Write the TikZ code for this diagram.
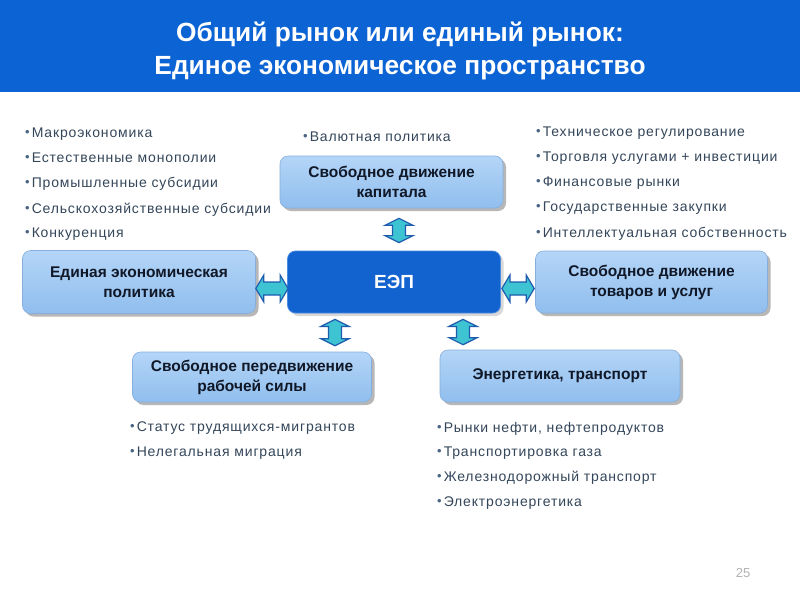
\documentclass[tikz,border=0pt]{standalone}
\usepackage{fontspec}
\setmainfont{Liberation Sans}
\newfontfamily\itemfont[LetterSpace=6]{Liberation Sans}
\usetikzlibrary{calc,shadows}
\definecolor{titleblue}{HTML}{0B63D4}
\definecolor{boxtop}{HTML}{B4D5F7}
\definecolor{boxbot}{HTML}{90BEEE}
\definecolor{boxline}{HTML}{86AEDC}
\definecolor{eepblue}{HTML}{1262D0}
\definecolor{eepline}{HTML}{4A8CE0}
\definecolor{bodytext}{HTML}{34465A}
\definecolor{bulletc}{HTML}{4A6484}
\definecolor{boxtext}{HTML}{101828}
\definecolor{arrfill}{HTML}{3EC3D3}
\definecolor{arrfill2}{HTML}{5AD6E2}
\definecolor{arrline}{HTML}{1F5BAE}
\tikzset{
  lbox/.style={rounded corners=8pt, top color=boxtop, bottom color=boxbot, draw=boxline, line width=0.6pt,
    drop shadow={shadow xshift=3pt, shadow yshift=-3pt, fill=gray!70, opacity=0.8},
    font=\fontsize{15.5}{20}\selectfont\bfseries, text=boxtext, align=center, inner sep=0pt},
  eepbox/.style={rounded corners=8pt, fill=eepblue, draw=eepline, line width=0.8pt,
    drop shadow={shadow xshift=3pt, shadow yshift=-3pt, fill=gray!50, opacity=0.6},
    font=\fontsize{19}{22}\selectfont\bfseries, text=white, align=center},
  item/.style={anchor=base west, inner sep=0pt, font=\itemfont\fontsize{14}{16}\selectfont, text=bodytext},
  dblarr/.style={fill=arrfill, draw=arrline, line width=1.2pt, line join=miter},
}
\newcommand\bul{{\color{bulletc}\fontsize{13}{14}\selectfont\raisebox{0.3pt}{•}}\hspace{2pt}}
\newcommand\varrow[2]{\path[dblarr] let \p1=(#1), \p2=(#2) in
  (\x1,\y1) -- (\x1+14pt,\y1-7pt) -- (\x1+6.5pt,\y1-7pt) -- (\x1+6.5pt,\y2+7pt) -- (\x1+14pt,\y2+7pt) -- (\x1,\y2)
  -- (\x1-14pt,\y2+7pt) -- (\x1-6.5pt,\y2+7pt) -- (\x1-6.5pt,\y1-7pt) -- (\x1-14pt,\y1-7pt) -- cycle;}
\newcommand\harrow[2]{\path[dblarr] let \p1=(#1), \p2=(#2) in
  (\x1,\y1) -- (\x1+8pt,\y1+13.5pt) -- (\x1+8pt,\y1+6.5pt) -- (\x2-8pt,\y1+6.5pt) -- (\x2-8pt,\y1+13.5pt) -- (\x2,\y1)
  -- (\x2-8pt,\y1-13.5pt) -- (\x2-8pt,\y1-6.5pt) -- (\x1+8pt,\y1-6.5pt) -- (\x1+8pt,\y1-13.5pt) -- cycle;}
\begin{document}
\begin{tikzpicture}[x=1pt,y=-1pt]
\useasboundingbox (0,0) rectangle (800,600);
\fill[white] (0,0) rectangle (800,600);
% title bar
\fill[titleblue] (0,0) rectangle (800,92);
\node[font=\fontsize{26.3}{33}\selectfont\bfseries, text=white, align=center] (title) at (400,51)
  {Общий рынок или единый рынок:\\Единое экономическое пространство};
% boxes
\node[lbox, minimum width=223pt, minimum height=52pt] (cap) at (391.5,182) {Свободное движение\\капитала};
\node[lbox, minimum width=233pt, minimum height=63pt] (lp) at (139,282) {Единая экономическая\\политика};
\node[eepbox, minimum width=213pt, minimum height=62pt] (eep) at (394,282) {ЕЭП};
\node[lbox, minimum width=232pt, minimum height=62pt] (rp) at (651.5,282) {Свободное движение\\товаров и услуг};
\node[lbox, minimum width=239pt, minimum height=50pt] (bl) at (252,377) {Свободное передвижение\\рабочей силы};
\node[lbox, minimum width=240pt, minimum height=52pt] (br) at (560,376) {Энергетика, транспорт};
% arrows
\varrow{$(cap.south)+(7.5,10)$}{$(eep.north)+(0,-8)$}
\harrow{$(lp.east)+(0,6.5)$}{$(eep.west)+(1,0)$}
\harrow{$(eep.east)+(1,6.5)$}{$(rp.west)+(-1,0)$}
\varrow{$(eep.south)+(-59,6)$}{$(bl.north)+(0,-6)$}
\varrow{$(eep.south)+(69,6)$}{$(br.north)+(0,-5)$}
% left list
\node[item] (l1) at (25,137) {\bul Макроэкономика};
\node[item] (l2) at (25,162) {\bul Естественные монополии};
\node[item] (l3) at (25,187) {\bul Промышленные субсидии};
\node[item] (l4) at (25,213) {\bul Сельскохозяйственные субсидии};
\node[item] (l5) at (25,237) {\bul Конкуренция};
% middle
\node[item] (m1) at (303,141) {\bul Валютная политика};
% right list
\node[item] (r1) at (536,136) {\bul Техническое регулирование};
\node[item] (r2) at (536,161) {\bul Торговля услугами + инвестиции};
\node[item] (r3) at (536,186) {\bul Финансовые рынки};
\node[item] (r4) at (536,211) {\bul Государственные закупки};
\node[item] (r5) at (536,237) {\bul Интеллектуальная собственность};
% bottom left
\node[item] (b1) at (130,431) {\bul Статус трудящихся-мигрантов};
\node[item] (b2) at (130,456) {\bul Нелегальная миграция};
% bottom right
\node[item] (c1) at (437,432) {\bul Рынки нефти, нефтепродуктов};
\node[item] (c2) at (437,456) {\bul Транспортировка газа};
\node[item] (c3) at (437,481) {\bul Железнодорожный транспорт};
\node[item] (c4) at (437,506) {\bul Электроэнергетика};
% page number
\node[font=\fontsize{13}{15}\selectfont, text=gray!60] (pg) at (743,573) {25};
\end{tikzpicture}
\end{document}
